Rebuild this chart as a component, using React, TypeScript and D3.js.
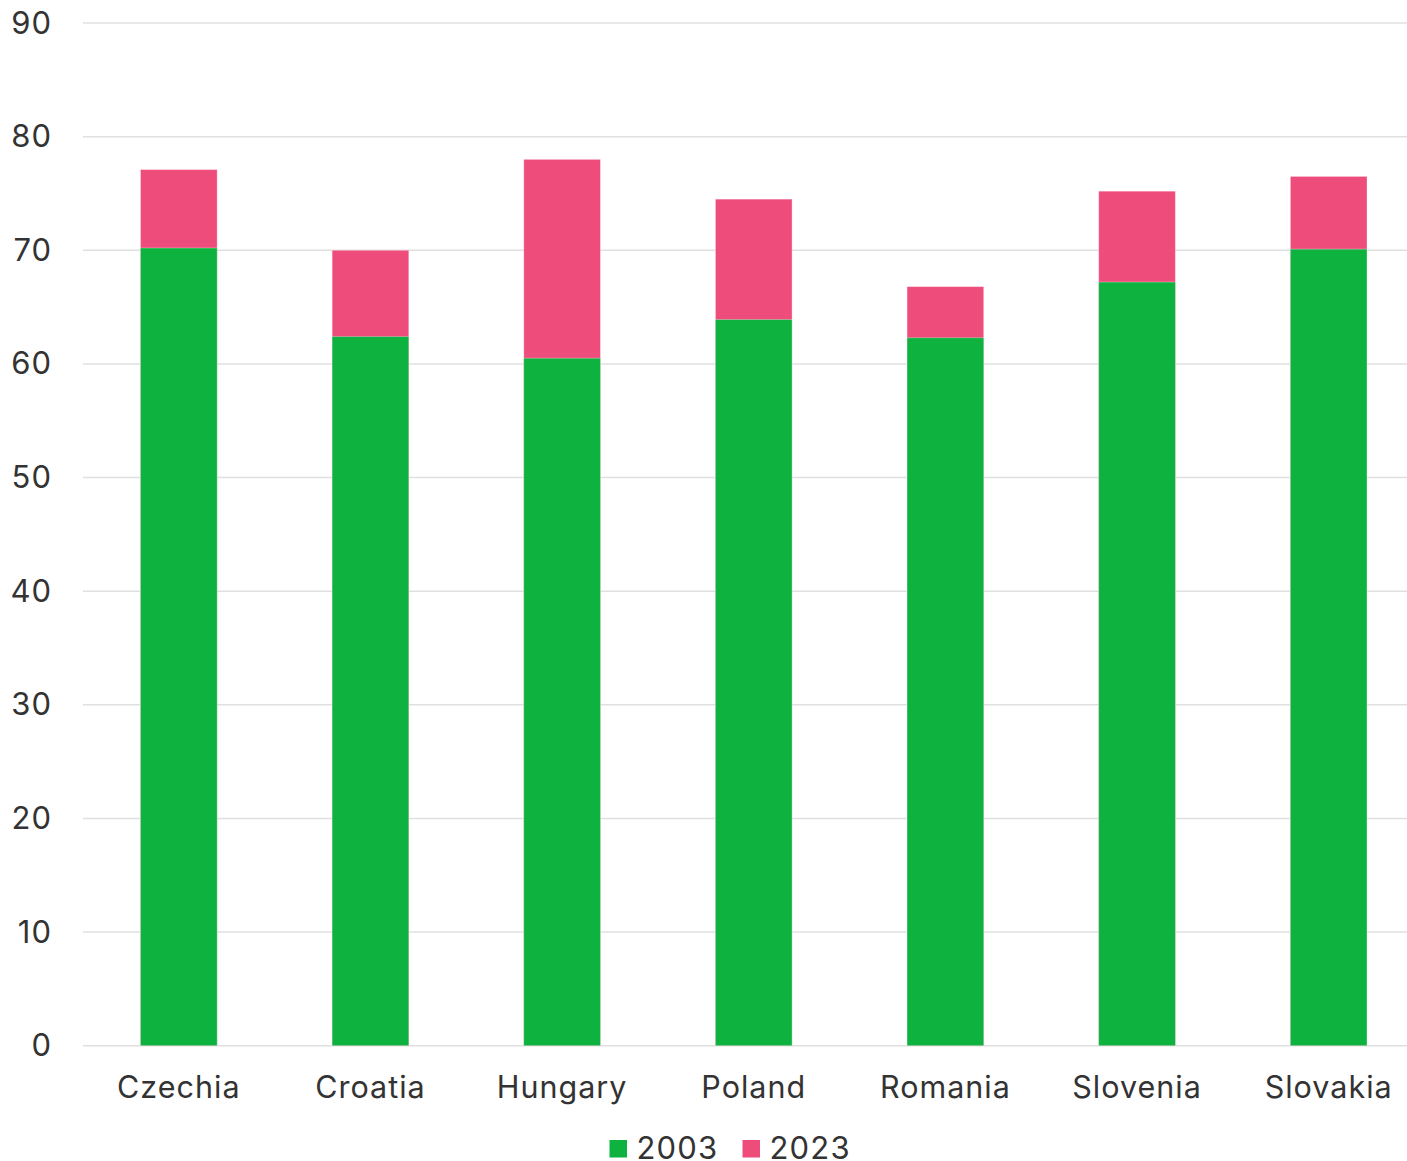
import React from "react";
import * as d3 from "d3";

const countries = ["Czechia", "Croatia", "Hungary", "Poland", "Romania", "Slovenia", "Slovakia"];
const values2003 = [70.2, 62.4, 60.5, 63.9, 62.3, 67.2, 70.1];
const values2023 = [77.1, 70.0, 78.0, 74.5, 66.8, 75.2, 76.5];
const yTicks = [0, 10, 20, 30, 40, 50, 60, 70, 80, 90];
const seriesNames = ["2003", "2023"];

const WIDTH = 1407;
const HEIGHT = 1161;
const GREEN = "#0db23f";
const PINK = "#ee4d7c";
const TEXT = "#333333";
const FONT = "Inter, 'Noto Sans', sans-serif";

export default function App() {
  const x = d3
    .scaleBand<string>()
    .domain(countries)
    .range([83, 1424.5])
    .paddingInner(0.6)
    .paddingOuter(0.3);
  const y = d3.scaleLinear().domain([0, 90]).range([1045.7, 23]);
  const bw = x.bandwidth();

  return (
    <div style={{ position: "absolute", left: 0, top: 0 }}>
      <svg width={WIDTH} height={HEIGHT} style={{ display: "block" }}>
        <rect width={WIDTH} height={HEIGHT} fill="#ffffff" />
        {yTicks.map((t) => (
          <g key={t}>
            <line x1={83} x2={WIDTH} y1={y(t)} y2={y(t)} stroke="#e0e0e0" strokeWidth={1.5} />
            <text
              x={52}
              y={y(t)}
              dy="0.34em"
              textAnchor="end"
              fontFamily={FONT}
              fontSize={31}
              letterSpacing={1}
              fill={TEXT}
            >
              {t}
            </text>
          </g>
        ))}
        {countries.map((c, i) => (
          <g key={c}>
            <rect
              x={x(c)}
              y={y(values2023[i])}
              width={bw}
              height={y(0) - y(values2023[i])}
              fill={PINK}
              stroke="#ffffff"
              strokeOpacity={0.4}
              strokeWidth={0.8}
            />
            <rect
              x={x(c)}
              y={y(values2003[i])}
              width={bw}
              height={y(0) - y(values2003[i])}
              fill={GREEN}
              stroke="#ffffff"
              strokeOpacity={0.4}
              strokeWidth={0.8}
            />
            <text
              x={(x(c) as number) + bw / 2}
              y={1098}
              textAnchor="middle"
              fontFamily={FONT}
              fontSize={30.5}
              letterSpacing={1}
              fill={TEXT}
            >
              {c}
            </text>
          </g>
        ))}
        {seriesNames.map((s, i) => {
          const lx = i === 0 ? 609.5 : 742.5;
          return (
            <g key={s}>
              <rect x={lx} y={1140} width={17.5} height={17.5} fill={i === 0 ? GREEN : PINK} />
              <text
                x={lx + 27}
                y={1158.5}
                fontFamily={FONT}
                fontSize={31}
                letterSpacing={1.2}
                fill={TEXT}
              >
                {s}
              </text>
            </g>
          );
        })}
      </svg>
    </div>
  );
}
